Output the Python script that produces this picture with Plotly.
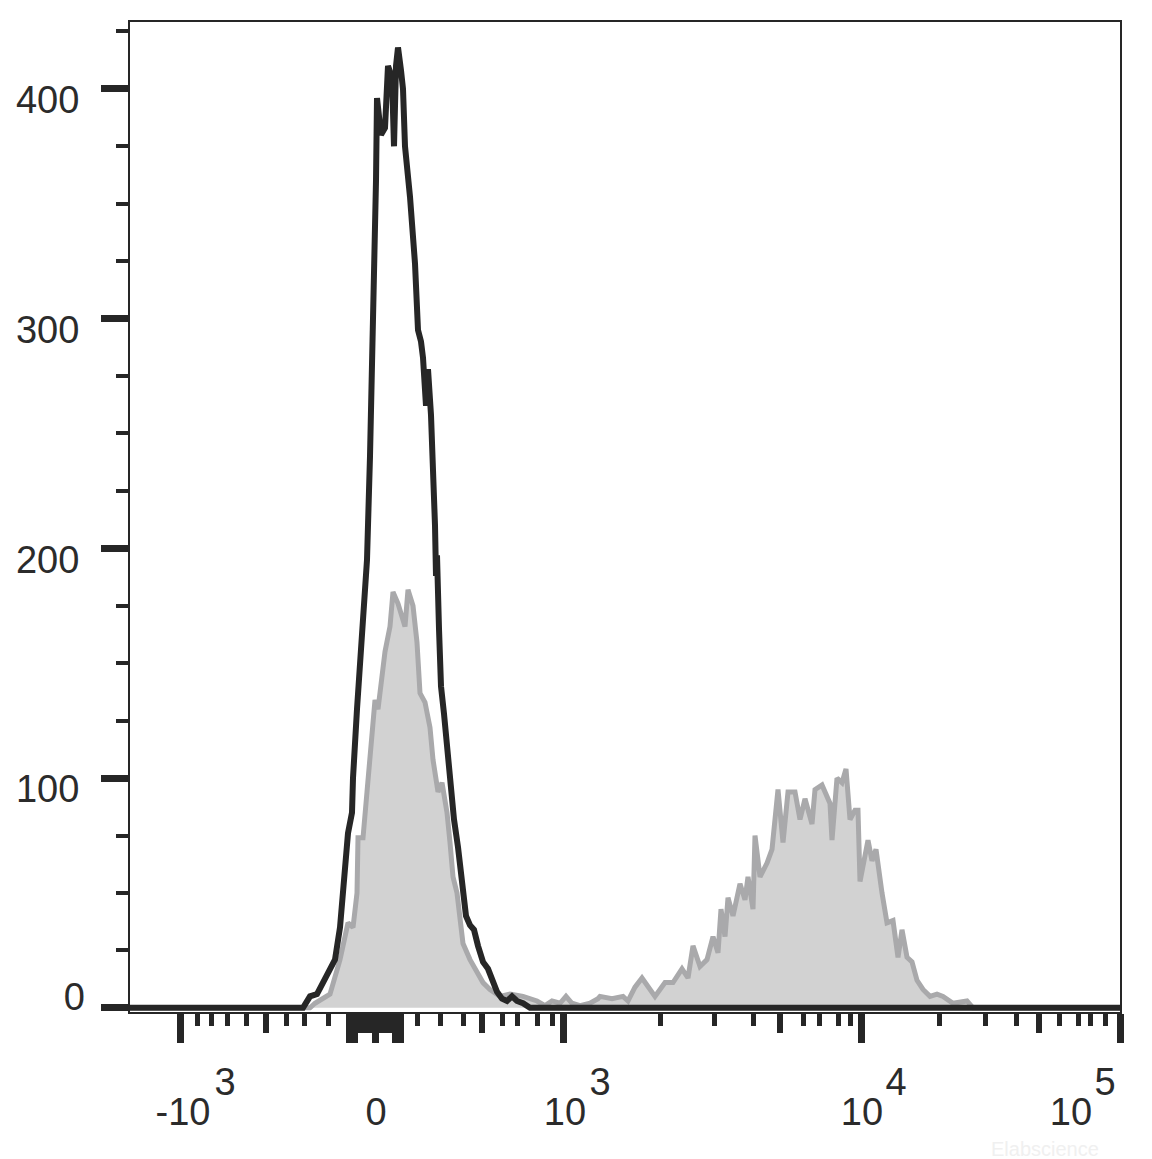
import plotly.graph_objects as go

# Display channel on the x axis (0 = left edge of plot, 990 = right edge, biexponential display)
black_x = [0, 173, 180, 187, 193, 200, 205, 210, 215, 218, 222, 223, 227, 230, 233, 237, 240, 243,
           246, 247, 251, 255, 258, 262, 264, 266, 268, 271, 273, 275, 280, 285, 288, 291, 293, 296,
           298, 301, 303, 305, 306, 307, 309, 311, 314, 317, 320, 324, 328, 332, 336, 340, 344, 348,
           353, 358, 363, 367, 372, 377, 382, 387, 393, 400, 990]
black_y = [0, 0, 5, 6, 11, 17, 21, 35, 57, 76, 85, 100, 130, 151, 173, 195, 240, 295,
           360, 396, 380, 383, 410, 405, 375, 410, 418, 408, 400, 375, 353, 324, 295, 290, 283, 262,
           278, 258, 240, 210, 188, 197, 165, 140, 128, 112, 98, 82, 70, 54, 40, 36, 34, 27,
           20, 17, 12, 7, 4, 3, 5, 3, 2, 0, 0]

gray_x = [0, 180, 185, 192, 200, 210, 215, 218, 223, 227, 228, 233, 237, 242, 245, 248, 252, 255,
          260, 263, 268, 275, 278, 283, 287, 290, 295, 300, 303, 308, 312, 317, 320, 323, 327, 330,
          333, 340, 347, 353, 360, 370, 380, 393, 407, 415, 422, 430, 436, 442, 450, 460, 468, 470,
          482, 493, 498, 505, 512, 518, 525, 535, 543, 552, 558, 563, 570, 577, 583, 588, 591, 595,
          598, 603, 610, 615, 618, 623, 625, 630, 637, 642, 648, 653, 658, 665, 670, 675, 682, 685,
          692, 700, 702, 707, 712, 716, 720, 725, 728, 730, 738, 742, 746, 752, 757, 763, 768, 772,
          777, 782, 787, 793, 800, 807, 813, 823, 837, 843, 990]
gray_y = [0, 0, 2, 4, 6, 21, 31, 37, 35, 50, 74, 74, 94, 122, 134, 130, 147, 155,
          166, 181, 176, 166, 182, 175, 159, 137, 133, 122, 108, 94, 98, 85, 72, 57, 50, 38,
          28, 21, 15, 11, 8, 5, 6, 5, 3, 1, 3, 2, 5, 2, 1, 2, 4, 5,
          4, 5, 3, 9, 13, 9, 5, 11, 11, 17, 13, 27, 18, 21, 31, 24, 43, 31,
          48, 40, 54, 47, 57, 43, 75, 57, 63, 69, 95, 72, 94, 94, 82, 91, 80, 95,
          97, 89, 73, 100, 98, 104, 82, 86, 86, 55, 73, 64, 69, 50, 37, 38, 22, 34,
          22, 20, 12, 8, 5, 6, 5, 2, 3, 0, 0]

# Axis ticks (display channel positions)
x_major = [50, 219, 224, 245, 265, 270, 433, 731, 990]
x_medium = [136, 229, 233, 237, 241, 249, 253, 257, 261, 352, 650, 909]
x_minor = [67, 81, 97, 116, 156, 174, 198, 287, 310, 333, 372, 387, 407, 422,
           530, 584, 623, 673, 689, 708, 720, 809, 855, 886, 929, 948, 960, 975]
x_base_pos = [53, 246, 435, 732, 941]
x_base_text = ["-10", "0", "10", "10", "10"]
x_exp_pos = [95, 470, 766, 975]
x_exp_text = ["3", "3", "4", "5"]

y_major = [0, 100, 200, 300, 400]
y_major_text = ["", "100", "200", "300", "400"]
y_minor = [25, 50, 75, 125, 150, 175, 225, 250, 275, 325, 350, 375, 425]
y_zero_pos = [0]
y_zero_text = ["0"]

X_RANGE = [0, 990]
Y_RANGE = [-1.8, 429.1]
INK = "#262626"
TXT = "#2b2b2b"
FONT = dict(family="Liberation Sans, Arial, sans-serif", size=38, color=TXT)

fig = go.Figure()
fig.add_trace(go.Scatter(x=gray_x, y=gray_y, mode="lines", fill="tozeroy",
                         fillcolor="#d2d2d2", line=dict(color="#a9a9ab", width=5),
                         hoverinfo="skip"))
fig.add_trace(go.Scatter(x=black_x, y=black_y, mode="lines",
                         line=dict(color=INK, width=6), hoverinfo="skip"))
# empty traces so that the overlaid tick / label axes are created
for xa, ya in [("x2", "y"), ("x3", "y"), ("x4", "y"), ("x", "y2")]:
    fig.add_trace(go.Scatter(x=[], y=[], xaxis=xa, yaxis=ya, mode="lines",
                             hoverinfo="skip", showlegend=False))

base = dict(showgrid=False, zeroline=False, fixedrange=True, automargin=False)
over_x = dict(overlaying="x", anchor="y", range=X_RANGE, showline=False, **base)
over_y = dict(overlaying="y", anchor="x", range=Y_RANGE, showline=False, side="left", **base)

fig.update_layout(
    width=1144, height=1151,
    margin=dict(l=122, r=32, t=14, b=147, autoexpand=False),
    paper_bgcolor="white", plot_bgcolor="white",
    showlegend=False, hovermode=False,
    xaxis=dict(range=X_RANGE, showline=True, linecolor=INK, linewidth=2, mirror=True,
               ticks="outside", tickvals=x_major, ticklen=29, tickwidth=7, tickcolor=INK,
               minor=dict(tickvals=x_minor, ticks="outside", ticklen=12, tickwidth=5,
                          tickcolor=INK, showgrid=False),
               showticklabels=False, **base),
    xaxis2=dict(tickvals=x_medium, ticks="outside", ticklen=20, tickwidth=6, tickcolor=INK,
                showticklabels=False, **over_x),
    xaxis3=dict(tickvals=x_base_pos, ticktext=x_base_text, ticks="", tickfont=FONT,
                ticklabelstandoff=74, **over_x),
    xaxis4=dict(tickvals=x_exp_pos, ticktext=x_exp_text, ticks="", tickfont=FONT,
                ticklabelstandoff=44, **over_x),
    yaxis=dict(range=Y_RANGE, showline=True, linecolor=INK, linewidth=2, mirror=True,
               ticks="outside", tickvals=y_major, ticktext=y_major_text, ticklen=27,
               tickwidth=7, tickcolor=INK, tickfont=FONT, ticklabelshift=11,
               ticklabelstandoff=14,
               minor=dict(tickvals=y_minor, ticks="outside", ticklen=12, tickwidth=4,
                          tickcolor=INK, showgrid=False),
               **base),
    yaxis2=dict(tickvals=y_zero_pos, ticktext=y_zero_text, ticks="", tickfont=FONT,
                ticklabelshift=-11, ticklabelstandoff=44, **over_y),
)

fig.add_annotation(text="Elabscience", xref="paper", yref="paper", x=0.924, y=-0.138,
                   xanchor="center", yanchor="middle", showarrow=False,
                   font=dict(family="Liberation Sans, Arial", size=20, color="#f0f0f0"))

fig.write_html("out.html")
